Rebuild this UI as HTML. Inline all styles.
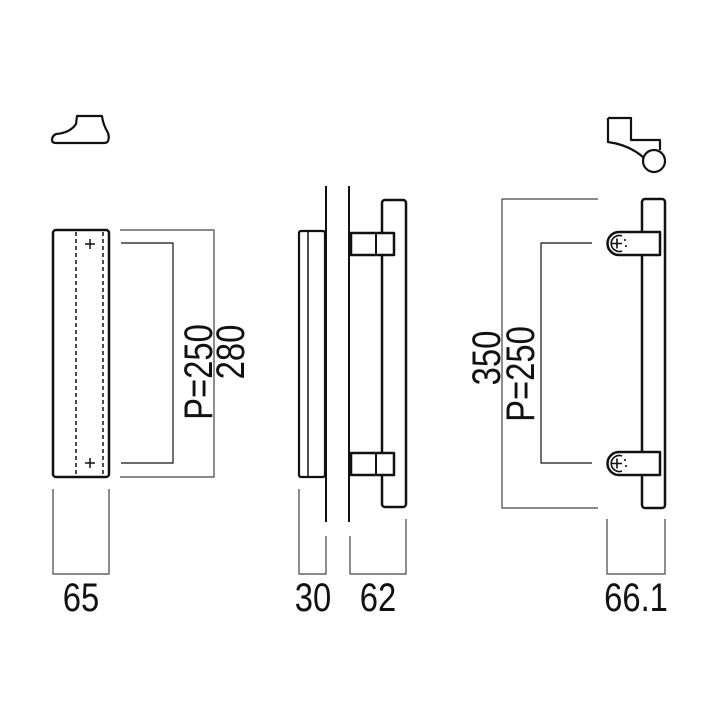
<!DOCTYPE html>
<html><head><style>html,body{margin:0;padding:0;background:#fff}svg{display:block}
text{font-family:"Liberation Sans",sans-serif;fill:#111}</style></head>
<body>
<svg width="709" height="709" viewBox="0 0 709 709" xmlns="http://www.w3.org/2000/svg">
<g fill="none" stroke="#111" stroke-linejoin="round">
<!-- left profile -->
<path d="M77 116 L102 116 Q103 124 107 131 Q110 136 108 141 Q107 143 104 143 L56 143 Q52 143 52 140 Q52 136 56 134 Q70 133 76 124 Z" stroke-width="2.2"/>
<!-- left plate -->
<rect x="53" y="230" width="56" height="247" rx="3" stroke-width="2.5"/>
<line x1="76" y1="232" x2="76" y2="476" stroke-width="1.5" stroke-dasharray="4,3"/>
<line x1="103" y1="232" x2="103" y2="476" stroke-width="1.5" stroke-dasharray="4,3"/>
<path d="M85 244h10M90 239v10M85 463h10M90 458v10" stroke-width="1.5"/>
<!-- left dims -->
<path d="M120 230H214V477H120" stroke-width="1.2" stroke="#444"/>
<path d="M121 243H173V463H121" stroke-width="1.2"/>
<path d="M53 489V574H109V489" stroke-width="1.2" stroke="#444"/>

<!-- middle -->
<line x1="326" y1="186" x2="326" y2="522" stroke-width="2"/>
<line x1="349" y1="186" x2="349" y2="522" stroke-width="2"/>
<rect x="299" y="231" width="26" height="246" rx="2" stroke-width="2.2"/>
<line x1="308" y1="231" x2="308" y2="477" stroke-width="1.5"/>
<rect x="382" y="200" width="24" height="307" rx="3" stroke-width="2.5"/>
<rect x="351" y="233" width="43" height="22" fill="#fff" stroke-width="2.5"/>
<line x1="376" y1="233" x2="376" y2="255" stroke-width="2"/>
<rect x="351" y="453" width="43" height="22" fill="#fff" stroke-width="2.5"/>
<line x1="376" y1="453" x2="376" y2="475" stroke-width="2"/>
<path d="M299 489V574H326V536" stroke-width="1.2" stroke="#444"/>
<path d="M350 536V574H406V519" stroke-width="1.2" stroke="#444"/>

<!-- right profile -->
<path d="M608 118H631V140H660V150" stroke-width="2.2"/>
<path d="M608 118V142Q630 145 644 158" stroke-width="2.2"/>
<circle cx="654" cy="161" r="11" stroke-width="2.2"/>
<!-- right handle -->
<rect x="642" y="199" width="23" height="309" rx="3" stroke-width="2.5"/>
<path d="M660 232H619A11.5 11.5 0 0 0 619 255H660Z" fill="#fff" stroke-width="2.5"/>
<path d="M660 452H619A11.5 11.5 0 0 0 619 475H660Z" fill="#fff" stroke-width="2.5"/>
<path d="M622 236A8 8 0 1 0 622 251" stroke-width="1.6"/>
<path d="M622 456A8 8 0 1 0 622 471" stroke-width="1.6"/>
<path d="M612 243.5h10M617 238.5v10M612 463.5h10M617 458.5v10" stroke-width="1.6"/>
<path d="M625 239v2M626 245v2M625 459v2M626 465v2" stroke-width="1.6"/>
<path d="M598 199H502V508H598" stroke-width="1.2" stroke="#444"/>
<path d="M592 243H541V463H592" stroke-width="1.2"/>
<path d="M607 519V574H665V519" stroke-width="1.2" stroke="#444"/>
</g>
<!-- labels -->
<g font-size="40">
<text transform="translate(81,611) scale(0.82,1)" text-anchor="middle">65</text>
<text transform="translate(313,611) scale(0.82,1)" text-anchor="middle">30</text>
<text transform="translate(378,611) scale(0.82,1)" text-anchor="middle">62</text>
<text transform="translate(636,611) scale(0.82,1)" text-anchor="middle">66.1</text>
<text transform="translate(212,372) rotate(-90) scale(0.82,1)" text-anchor="middle">P=250</text>
<text transform="translate(244,352) rotate(-90) scale(0.82,1)" text-anchor="middle">280</text>
<text transform="translate(500,358) rotate(-90) scale(0.82,1)" text-anchor="middle">350</text>
<text transform="translate(534,374) rotate(-90) scale(0.82,1)" text-anchor="middle">P=250</text>
</g>
</svg>
</body></html>
